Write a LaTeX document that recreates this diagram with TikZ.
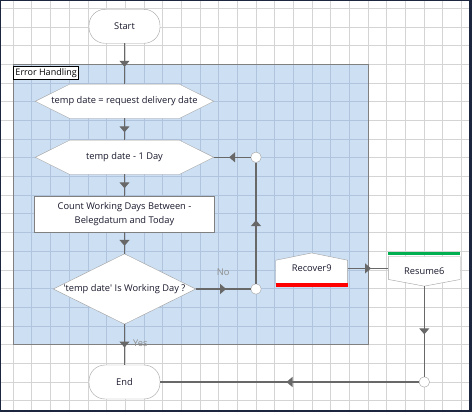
\documentclass[tikz,border=0pt]{standalone}
\usepackage{fontspec}
\setmainfont{Open Sans}
\usetikzlibrary{positioning,arrows.meta,decorations.markings}
\pgfdeclarelayer{back}
\pgfdeclarelayer{outline}
\pgfsetlayers{back,outline,main}

\definecolor{framenavy}{RGB}{28,38,62}
\definecolor{gridgray}{RGB}{212,212,212}
\definecolor{bluefill}{RGB}{205,224,243}
\definecolor{bluegrid}{RGB}{176,196,222}
\definecolor{regionline}{RGB}{128,128,128}
\definecolor{edgegray}{RGB}{160,160,160}
\definecolor{linegray}{RGB}{104,104,104}
\definecolor{labelgray}{RGB}{140,140,140}
\definecolor{inkdark}{RGB}{25,25,45}
\definecolor{barred}{RGB}{255,0,0}
\definecolor{bargreen}{RGB}{0,176,80}

\tikzstyle{terminal}=[rectangle,draw=edgegray,fill=white,rounded corners=16pt,minimum width=71pt,minimum height=34pt]
\tikzstyle{hexa}=[rectangle,minimum width=178pt,minimum height=34pt,inner sep=0pt]
\tikzstyle{process}=[rectangle,draw=edgegray!80!black,fill=white,minimum width=180pt,minimum height=35.5pt,align=center]
\tikzstyle{decision}=[rectangle,minimum width=142pt,minimum height=70pt,inner sep=0pt]
\tikzstyle{handler}=[rectangle,minimum width=71.5pt,minimum height=30.5pt,inner sep=0pt]
\tikzstyle{joint}=[circle,draw=edgegray,fill=white,minimum size=10.5pt,inner sep=0pt]
\tikzstyle{shapeline}=[draw=edgegray,fill=white]
\tikzstyle{flow}=[draw,color=linegray,line width=1.1pt,postaction={decorate},
  decoration={markings,mark=at position 0.5 with {\arrow[xshift=3pt]{Triangle[width=10pt,length=6pt]}}}]
\tikzstyle{tag}=[text=labelgray,inner sep=0pt]

% hexagon outline round a named node
\newcommand{\hexline}[1]{\draw[shapeline] (#1.west) -- ([xshift=34.5pt]#1.north west) -- ([xshift=-34.5pt]#1.north east) -- (#1.east) -- ([xshift=-34.5pt]#1.south east) -- ([xshift=34.5pt]#1.south west) -- cycle;}

\begin{document}
\begin{tikzpicture}[x=1pt,y=-1pt,font=\fontsize{9.3}{13.4}\selectfont,text=inkdark]
  \useasboundingbox (0,0) rectangle (472,412);

  % canvas, grid and group
  \begin{pgfonlayer}{back}
    \fill[framenavy] (0,0) rectangle (472,412);
    \fill[white] (1,1) rectangle (469.3,410);
    \foreach \i in {0,...,24}
      \draw[gridgray,line width=1pt] ({13.3+\i*18.68},1) -- ({13.3+\i*18.68},410);
    \foreach \j in {0,...,21}
      \draw[gridgray,line width=1pt] (1,{8.5+\j*18.68}) -- (469.3,{8.5+\j*18.68});
    \node[rectangle,fill=bluefill,minimum width=354.9pt,minimum height=280.2pt,inner sep=0pt] (grp) at (190.75,204.6) {};
    \foreach \i in {1,...,18}
      \draw[bluegrid,line width=1pt] ({13.3+\i*18.68},64.5) -- ({13.3+\i*18.68},344.7);
    \foreach \j in {4,...,17}
      \draw[bluegrid,line width=1pt] (13.3,{8.5+\j*18.68}) -- (368.2,{8.5+\j*18.68});
    \draw[regionline,line width=1pt] (grp.north west) rectangle (grp.south east);
  \end{pgfonlayer}
  \node[draw=black,fill=white,line width=0.8pt,anchor=north west,inner xsep=2pt,inner ysep=0pt,minimum height=12.6pt,text=black,font=\fontsize{9}{11}\selectfont] (ehtag) at ([yshift=-2.2pt]grp.north west) {Error Handling};

  % main column
  \node[terminal] (start) at (124.5,26.3) {Start};
  \node[hexa, below of=start, node distance=75pt] (tdset) {temp date = request delivery date};
  \node[hexa, below of=tdset, node distance=56pt] (tdminus) {temp date - 1 Day};
  \node[process, below of=tdminus, node distance=56.7pt] (count) {Count Working Days Between -\\Belegdatum and Today};
  \node[decision, below of=count, node distance=75pt] (isday) {\textquotesingle temp date\textquotesingle{} Is Working Day ?};
  \node[terminal, below of=isday, node distance=93pt] (end) {End};

  % loop joints
  \node[joint, right of=isday, node distance=131.5pt] (jlow) {};
  \node[joint, right of=tdminus, node distance=131.5pt] (jup) {};

  % error handler
  \node[handler] (rec) at (311.7,268.4) {Recover9};
  \node[handler, minimum height=29.3pt] (res) at (424.3,271.3) {Resume6};
  \node[joint] (jend) at (res |- end) {};

  \begin{pgfonlayer}{outline}
    \hexline{tdset}
    \hexline{tdminus}
    \draw[shapeline] (isday.west) -- (isday.north) -- (isday.east) -- (isday.south) -- cycle;
    \draw[shapeline] (rec.south west) -- ([yshift=-7.3pt]rec.north west) -- (rec.north) -- ([yshift=-7.3pt]rec.north east) -- (rec.south east) -- cycle;
    \fill[barred] ([yshift=0.6pt]rec.south west) rectangle ([yshift=-2.8pt]rec.south east);
    \draw[shapeline] (res.north west) -- (res.north east) -- ([yshift=6.7pt]res.south east) -- (res.south) -- ([yshift=6.7pt]res.south west) -- cycle;
    \fill[bargreen] ([yshift=1pt]res.north west) rectangle ([yshift=4.4pt]res.north east);
  \end{pgfonlayer}

  % connectors
  \path[flow] (start) -- (tdset);
  \path[flow] (tdset) -- (tdminus);
  \path[flow] (tdminus) -- (count);
  \path[flow] (count) -- (isday);
  \path[flow] (isday) -- node[tag, anchor=west, xshift=8pt, yshift=1.5pt] {Yes} (end);
  \path[flow] (isday) -- node[tag, above=13pt] {No} (jlow);
  \path[flow] (jlow) -- (jup);
  \path[flow] (jup) -- (tdminus);
  \path[flow] (rec.east) -- (rec.east -| res.west);
  \path[flow] (res) -- (jend);
  \path[flow] (jend) -- (end);
\end{tikzpicture}
\end{document}
